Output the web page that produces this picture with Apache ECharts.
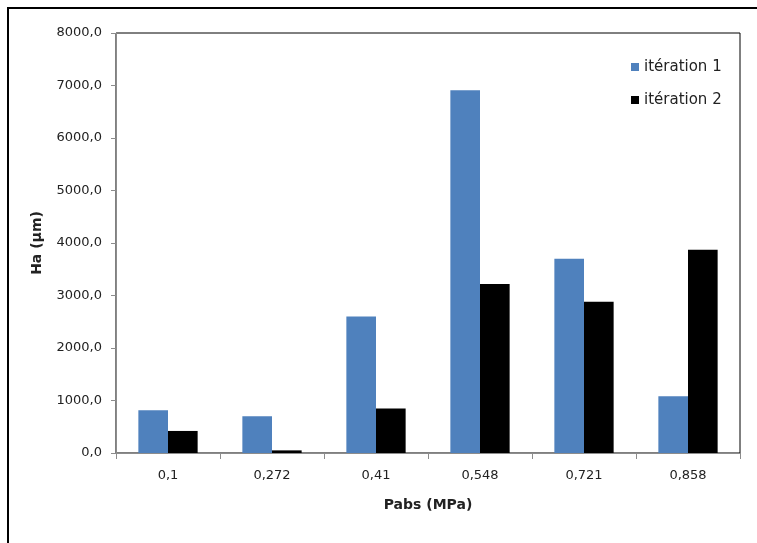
<!DOCTYPE html>
<html><head><meta charset="utf-8">
<script src="https://cdn.jsdelivr.net/npm/echarts@6/dist/echarts.min.js"></script>
<style>html,body{margin:0;padding:0;background:#fff}#c{width:757px;height:543px}</style>
</head><body><div id="c"></div>
<script>
const categories = ['0,1', '0,272', '0,41', '0,548', '0,721', '0,858'];
const iteration1 = [815, 700, 2600, 6910, 3700, 1080];
const iteration2 = [420, 50, 850, 3220, 2880, 3870];
const seriesNames = ['itération 1', 'itération 2'];
const yMin = 0, yMax = 8000, yStep = 1000;

const font = '"DejaVu Sans", sans-serif';
const chart = echarts.init(document.getElementById('c'));
chart.setOption({
  animation: false,
  backgroundColor: '#fff',
  textStyle: { fontFamily: font },
  graphic: [{
    type: 'rect', shape: { x: 8, y: 8, width: 760, height: 560 },
    style: { fill: 'none', stroke: '#000', lineWidth: 2 }, z: 0
  }],
  grid: { left: 116, right: 17, top: 33, bottom: 90, show: true, borderColor: '#000', borderWidth: 1, backgroundColor: 'transparent' },
  legend: {
    orient: 'vertical', left: 626, top: 54, itemWidth: 8, itemHeight: 8, itemGap: 17,
    icon: 'rect',
    textStyle: { fontSize: 15, lineHeight: 16, color: '#222', fontFamily: font },
    data: seriesNames
  },
  xAxis: {
    type: 'category', data: categories,
    name: 'Pabs (MPa)', nameLocation: 'middle', nameGap: 45,
    nameTextStyle: { fontWeight: 'bold', fontSize: 14, color: '#222', fontFamily: font },
    axisLine: { lineStyle: { color: '#8c8c8c', width: 1 } },
    axisTick: { show: true, interval: 0, length: 6, lineStyle: { color: '#8c8c8c' } },
    axisLabel: { fontSize: 13, color: '#222', margin: 16, fontFamily: font }
  },
  yAxis: {
    type: 'value', min: yMin, max: yMax, interval: yStep,
    name: 'Ha (µm)', nameLocation: 'middle', nameGap: 72, nameRotate: 90,
    nameTextStyle: { fontWeight: 'bold', fontSize: 14, color: '#222', fontFamily: font },
    axisLine: { show: true, lineStyle: { color: '#8c8c8c', width: 1 } },
    axisTick: { show: true, length: 5, lineStyle: { color: '#8c8c8c' } },
    splitLine: { show: false },
    axisLabel: { fontSize: 13, color: '#222', margin: 14, fontFamily: font,
      formatter: v => v.toFixed(1).replace('.', ',') }
  },
  series: [
    { name: seriesNames[0], type: 'bar', data: iteration1, barGap: '0%', barCategoryGap: '43%',
      itemStyle: { color: '#4f81bd' } },
    { name: seriesNames[1], type: 'bar', data: iteration2, barGap: '0%', barCategoryGap: '43%',
      itemStyle: { color: '#000000' } }
  ]
});
</script></body></html>
